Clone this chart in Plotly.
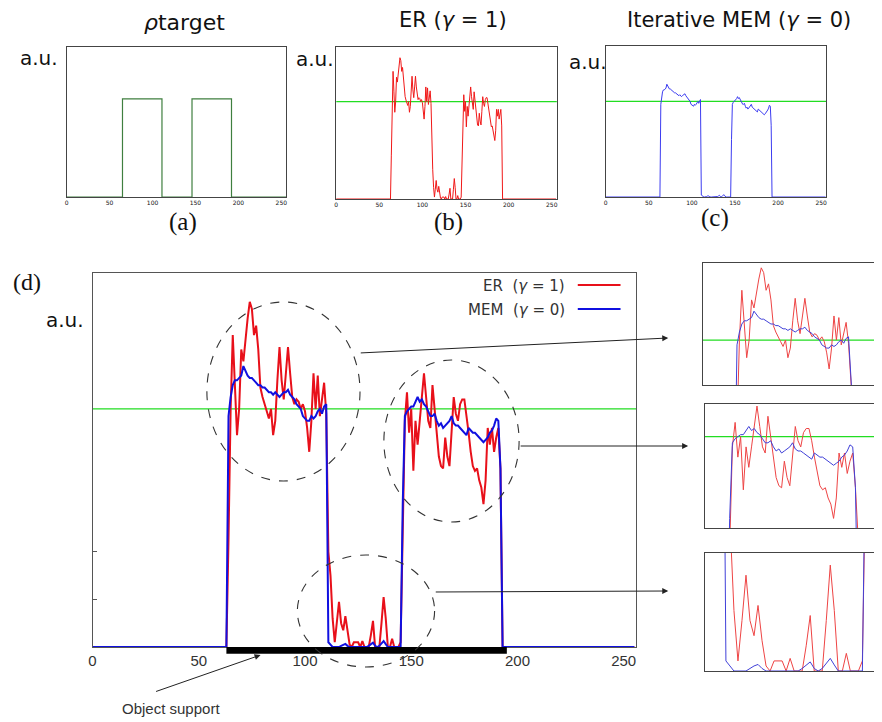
import plotly.graph_objects as go

W, H = 882, 722
OFF = 8  # page body margin of the html page

# ---------------- data ----------------
x_pixels = list(range(256))
x_ticks = [0, 50, 100, 150, 200, 250]
target_level = 1.0
target_x = [0, 65, 65, 111, 111, 146, 146, 192, 192, 256]
target_y = [0, 0, 1, 1, 0, 0, 1, 1, 0, 0]
support_start, support_end = 63, 195

# ER (gamma = 1), x = 63..111
er_block1 = [0.0, 0.45, 1.0, 1.31, 1.10, 0.89, 1.00, 1.25, 1.20, 1.30,
             1.38, 1.45, 1.42, 1.31, 1.35, 1.25, 1.09, 1.05, 1.015, 0.99,
             0.96, 1.00, 0.89, 0.95, 1.12, 1.26, 1.12, 1.04, 1.15, 1.26,
             1.15, 1.05, 1.02, 1.04, 1.03, 1.00, 1.02, 0.99, 0.92, 0.82,
             0.95, 1.15, 1.00, 1.14, 0.97, 1.05, 1.11, 0.98, 0.40]
# ER, x = 112..145
er_mid = [0.30, 0.12, 0.02, 0.10, 0.19, 0.10, 0.07, 0.13, 0.06, 0.01,
          0.00, 0.02, 0.02, 0.02, 0.00, 0.025, 0.00, 0.00, 0.00, 0.05,
          0.11, 0.00, 0.00, 0.00, 0.10, 0.21, 0.12, 0.00, 0.00, 0.035,
          0.00, 0.00, 0.00, 0.02]
# ER, x = 146..193
er_block2 = [0.45, 0.95, 1.07, 0.90, 1.00, 0.74, 0.95, 0.85, 0.95, 1.05,
             1.15, 1.05, 0.95, 0.92, 1.10, 1.00, 0.90, 0.80, 0.76, 0.75,
             0.88, 0.80, 0.76, 0.90, 1.05, 0.98, 0.95, 1.02, 1.04, 1.04,
             0.98, 0.90, 0.82, 0.76, 0.74, 0.75, 0.70, 0.67, 0.60, 0.70,
             0.92, 0.85, 0.92, 0.82, 0.88, 0.92, 0.75, 0.0]

# MEM (gamma = 0), x = 63..111
mem_block1 = [0.0, 0.97, 1.05, 1.10, 1.12, 1.12, 1.13, 1.14, 1.18, 1.16,
              1.14, 1.13, 1.13, 1.12, 1.11, 1.10, 1.10, 1.09, 1.09, 1.08,
              1.07, 1.07, 1.06, 1.07, 1.06, 1.05, 1.06, 1.07, 1.07, 1.08,
              1.06, 1.05, 1.04, 1.02, 1.01, 1.00, 0.97, 0.96, 0.95, 0.95,
              0.97, 0.96, 0.97, 0.99, 1.00, 0.98, 1.01, 1.02, 0.02]
# MEM, x = 112..145
mem_mid = [0.01, 0.0, 0.0, 0.0, 0.0, 0.005, 0.01, 0.013, 0.005, 0.0,
           0.0, 0.0, 0.0, 0.0, 0.0, 0.0, 0.0, 0.0, 0.005, 0.012,
           0.018, 0.005, 0.0, 0.005, 0.015, 0.025, 0.012, 0.0, 0.0, 0.0,
           0.0, 0.0, 0.0, 0.0]
# MEM, x = 146..193
mem_block2 = [0.60, 0.97, 0.99, 1.00, 1.01, 1.01, 1.03, 1.05, 1.03, 1.04,
              1.02, 1.01, 0.99, 0.97, 0.97, 0.98, 0.95, 0.93, 0.94, 0.92,
              0.93, 0.94, 0.95, 0.97, 0.94, 0.93, 0.93, 0.92, 0.91, 0.90,
              0.89, 0.92, 0.91, 0.90, 0.90, 0.89, 0.88, 0.87, 0.86, 0.87,
              0.88, 0.90, 0.91, 0.93, 0.96, 0.95, 0.75, 0.0]

er = [0.0] * 63 + er_block1 + er_mid + er_block2 + [0.0] * 62
mem = [0.0] * 63 + mem_block1 + mem_mid + mem_block2 + [0.0] * 62

# ---------------- helpers ----------------
def px(x):
    return (x - OFF) / W

def py(y):
    return 1 - (y - OFF) / H

RED = "#e8101a"
BLUE = "#1010e0"
GREEN = "#22dd22"

fig = go.Figure()

# axis slots: name -> (x px range, y px range, xrange, yrange)
panels = {
    "1": ((63, 284), (47, 197), [0, 256], [0, 1.53]),     # (a)
    "2": ((334, 556), (47, 199), [0, 256], [0, 1.56]),    # (b)
    "3": ((605, 827), (46, 197), [0, 256], [0, 1.58]),    # (c)
    "4": ((89, 636), (273, 647), [0, 256], [0, 1.571]),   # (d) main
    "5": ((703, 881), (263, 385), [50, 123], [0.72, 1.48]),   # inset 1
    "6": ((705, 881), (404, 528), [137, 201], [0.553, 1.16]), # inset 2
    "7": ((705, 881), (553, 671), [105.8, 149.4], [0, 0.234]), # inset 3
}

layout_axes = {}
for k, (xp, yp, xr, yr) in panels.items():
    xname = "xaxis" if k == "1" else f"xaxis{k}"
    yname = "yaxis" if k == "1" else f"yaxis{k}"
    anchor_x = "x" if k == "1" else f"x{k}"
    anchor_y = "y" if k == "1" else f"y{k}"
    frame_col = "#555555" if k == "4" else "#444444"
    xa = dict(domain=[px(xp[0]), px(xp[1])], range=xr, anchor=anchor_y,
              showline=True, mirror=True, linecolor=frame_col, linewidth=1.2,
              showgrid=False, zeroline=False, ticks="", fixedrange=True)
    ya = dict(domain=[py(yp[1]), py(yp[0])], range=yr, anchor=anchor_x,
              showline=True, mirror=True, linecolor=frame_col, linewidth=1.2,
              showgrid=False, zeroline=False, ticks="", showticklabels=False,
              fixedrange=True)
    if k in ("1", "2", "3"):
        xa.update(tickvals=x_ticks, ticktext=[str(t) for t in x_ticks],
                  tickfont=dict(size=6, color="#111", family="DejaVu Sans"))
    elif k == "4":
        xa.update(tickvals=x_ticks, ticktext=[str(t) for t in x_ticks],
                  tickfont=dict(size=15, color="#333",
                                family="Liberation Sans Narrow, Liberation Sans"))
        ya.update(tickvals=[0.2, 0.4], ticks="inside", ticklen=4,
                  tickcolor="#555")
    else:
        xa.update(showticklabels=False)
    layout_axes[xname] = xa
    layout_axes[yname] = ya

def ref(k):
    return ("x", "y") if k == "1" else (f"x{k}", f"y{k}")

# (a) target
xa_, ya_ = ref("1")
fig.add_trace(go.Scatter(x=target_x, y=target_y, mode="lines",
                         line=dict(color="#3f7f3f", width=1.2),
                         xaxis=xa_, yaxis=ya_, hoverinfo="skip"))

# green reference lines
for k in ("2", "3", "4", "5", "6", "7"):
    xa_, ya_ = ref(k)
    fig.add_trace(go.Scatter(x=[0, 256], y=[target_level, target_level],
                             mode="lines", line=dict(color=GREEN, width=1.3),
                             xaxis=xa_, yaxis=ya_, hoverinfo="skip"))

# ER traces
for k, w, c in (("2", 1, "#f01818"), ("4", 2, RED), ("5", 1, "#ee4444"),
                ("6", 1, "#ee4444"), ("7", 1, "#ee4444")):
    xa_, ya_ = ref(k)
    fig.add_trace(go.Scatter(x=x_pixels, y=er, mode="lines",
                             line=dict(color=c, width=w),
                             xaxis=xa_, yaxis=ya_, hoverinfo="skip"))

# MEM traces
for k, w, c in (("3", 1, "#3c3cf0"), ("4", 2, BLUE), ("5", 1, "#4040d8"),
                ("6", 1, "#4040d8"), ("7", 1, "#4040d8")):
    xa_, ya_ = ref(k)
    fig.add_trace(go.Scatter(x=x_pixels, y=mem, mode="lines",
                             line=dict(color=c, width=w),
                             xaxis=xa_, yaxis=ya_, hoverinfo="skip"))

shapes = []
# object support bar
shapes.append(dict(type="rect", xref="x4", yref="y4 domain",
                   x0=support_start, x1=support_end, y0=-0.018, y1=0.0,
                   fillcolor="black", line=dict(width=0)))
# dashed ellipses
for (x0, x1, y0, y1) in ((204, 358, 302, 481), (382, 518, 360, 522),
                         (295, 433, 555, 667)):
    shapes.append(dict(type="circle", xref="paper", yref="paper",
                       x0=px(x0), x1=px(x1), y0=py(y1), y1=py(y0),
                       line=dict(color="#333", width=1.1, dash="dash")))
# legend line samples
shapes.append(dict(type="line", xref="paper", yref="paper",
                   x0=px(577), x1=px(620), y0=py(285), y1=py(285),
                   line=dict(color=RED, width=2.2)))
shapes.append(dict(type="line", xref="paper", yref="paper",
                   x0=px(577), x1=px(620), y0=py(309), y1=py(309),
                   line=dict(color=BLUE, width=2.2)))

ann = []
def text(x, y, s, size, family="DejaVu Sans", color="#111", xanchor="center"):
    ann.append(dict(x=px(x), y=py(y), xref="paper", yref="paper", text=s,
                    showarrow=False, xanchor=xanchor, yanchor="middle",
                    font=dict(size=size, family=family, color=color)))

text(181, 22, "<i>ρ</i>target", 22)
text(452, 20, "ER (<i>γ</i> = 1)", 21)
text(739, 20, "Iterative MEM (<i>γ</i> = 0)", 21)
text(35, 58, "a.u.", 20)
text(313, 59, "a.u.", 20)
text(587, 62, "a.u.", 20)
text(180, 222, "(a)", 25, family="Liberation Serif")
text(447, 222, "(b)", 25, family="Liberation Serif")
text(715, 218, "(c)", 25, family="Liberation Serif")
text(23, 282, "(d)", 24, family="Liberation Serif")
text(61, 320, "a.u.", 20)
text(566, 286, "ER  (<i>γ</i> = 1)", 15, color="#333", xanchor="right")
text(566, 310, "MEM  (<i>γ</i> = 0)", 15, color="#333", xanchor="right")
text(168, 708, "Object support", 15, family="Liberation Sans Narrow, Liberation Sans",
     color="#333")

def arrow(x_head, y_head, x_tail, y_tail):
    ann.append(dict(x=px(x_head), y=py(y_head), xref="paper", yref="paper",
                    ax=x_tail - x_head, ay=y_tail - y_head, text="",
                    showarrow=True, arrowhead=2, arrowsize=1.2, arrowwidth=1,
                    arrowcolor="#222"))

arrow(668, 338, 359, 353)
arrow(688, 446, 519, 446)
arrow(668, 591, 434, 592)
arrow(258, 655, 152, 692)

fig.update_layout(width=W, height=H, margin=dict(l=0, r=0, t=0, b=0),
                  paper_bgcolor="white", plot_bgcolor="white",
                  showlegend=False, shapes=shapes, annotations=ann,
                  **layout_axes)

fig.write_html("out.html")
